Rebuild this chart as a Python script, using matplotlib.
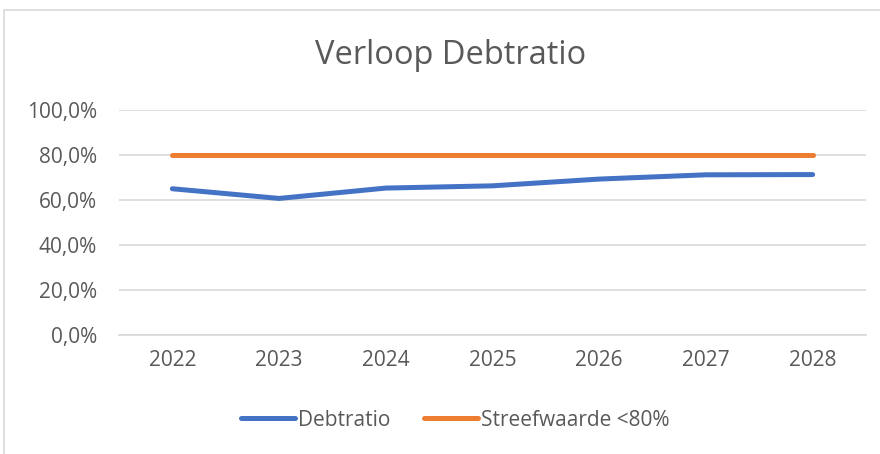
import matplotlib.pyplot as plt
from matplotlib.ticker import FuncFormatter
from matplotlib.patches import Rectangle

years = ["2022", "2023", "2024", "2025", "2026", "2027", "2028"]
debtratio = [65.0, 60.7, 65.3, 66.3, 69.3, 71.2, 71.3]
streefwaarde = [80, 80, 80, 80, 80, 80, 80]

plt.rcParams['font.family'] = ['Open Sans', 'DejaVu Sans']
grey = "#595959"

fig = plt.figure(figsize=(8.8, 4.54), dpi=100)
# chart frame like the spreadsheet chart border
fig.patches.append(Rectangle((4 / 880, -0.1), 1.0, (454 - 10) / 454 + 0.1,
                             transform=fig.transFigure, fill=False,
                             edgecolor="#D9D9D9", linewidth=1.2))

ax = fig.add_axes([119 / 880, 1 - 335 / 454, (866 - 119) / 880, (335 - 110) / 454])
x = range(len(years))
ax.plot(x, debtratio, color="#4472C4", linewidth=3.6, solid_capstyle="round",
        label="Debtratio", zorder=3)
ax.plot(x, streefwaarde, color="#ED7D31", linewidth=3.6, solid_capstyle="round",
        label="Streefwaarde <80%", zorder=3)

ax.set_xlim(-0.5, 6.5)
ax.set_ylim(0, 100)
ax.set_yticks([0, 20, 40, 60, 80, 100])
ax.yaxis.set_major_formatter(FuncFormatter(lambda v, p: f"{v:.1f}%".replace(".", ",")))
ax.set_xticks(list(x))
ax.set_xticklabels(years)
ax.grid(axis="y", color="#D9D9D9", linewidth=1.2)
ax.set_axisbelow(True)
for s in ["top", "right", "left"]:
    ax.spines[s].set_visible(False)
ax.spines["bottom"].set_color("#D9D9D9")
ax.spines["bottom"].set_linewidth(1.2)
ax.tick_params(length=0, labelsize=15, colors=grey)
ax.tick_params(axis="y", pad=16)
ax.tick_params(axis="x", pad=11)

fig.text(451 / 880, 1 - 55 / 454, "Verloop Debtratio", ha="center", va="center",
         fontsize=23.5, color=grey)

fig.legend(loc="center", bbox_to_anchor=(455 / 880, 1 - 420 / 454), ncol=2,
           frameon=False, fontsize=15, labelcolor=grey, handlelength=2.6,
           handletextpad=0.15, columnspacing=1.6)

fig.savefig("out.png", dpi=100)
